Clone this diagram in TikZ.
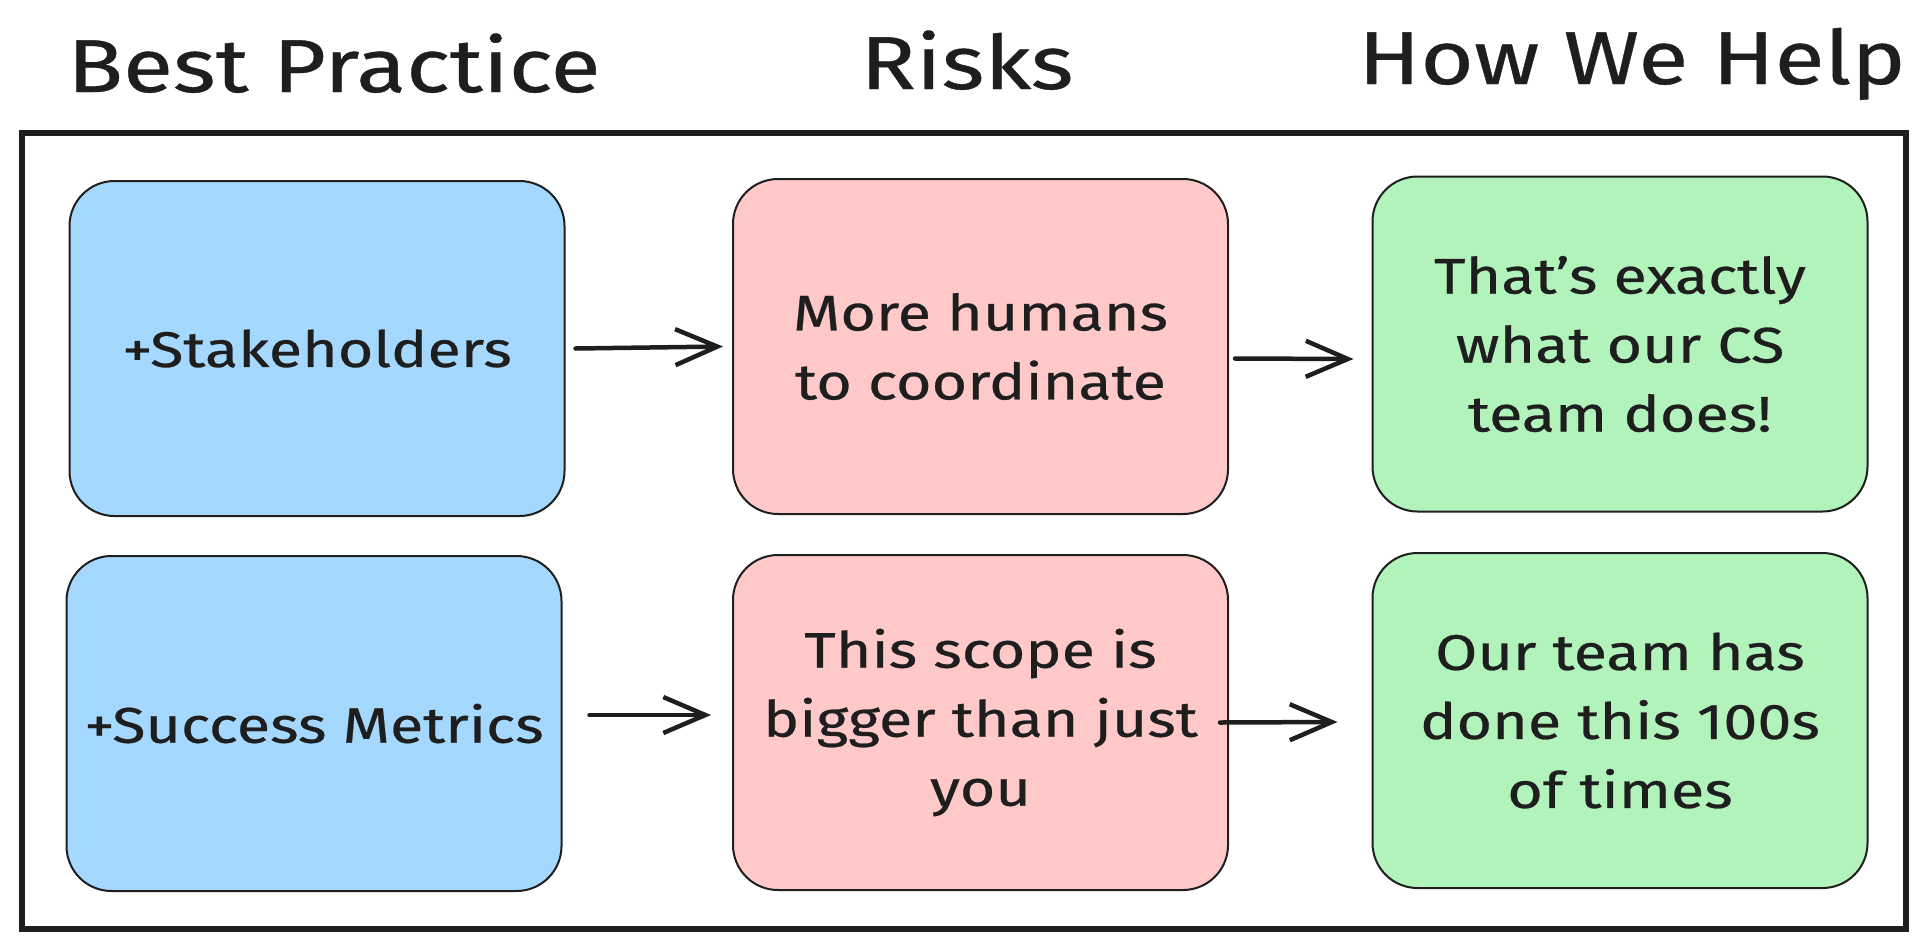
\documentclass[tikz,border=0pt]{standalone}
\usepackage{fontspec}
\setmainfont{Fira Sans}[FakeStretch=1.22,FakeBold=0.5]
\usetikzlibrary{arrows.meta}
\definecolor{ink}{HTML}{1E1E1E}
\definecolor{bpblue}{HTML}{A5D8FF}
\definecolor{rkpink}{HTML}{FFC9C9}
\definecolor{hwgreen}{HTML}{B2F2BB}
\begin{document}
\begin{tikzpicture}[x=1pt,y=-1pt,
    card/.style={draw=ink,line width=2pt,rounded corners=45pt,minimum width=495pt,minimum height=335pt,
                 align=center,text=ink,inner sep=0pt,font=\fontsize{50}{69}\selectfont},
    bestcard/.style={card,fill=bpblue},
    riskcard/.style={card,fill=rkpink},
    helpcard/.style={card,fill=hwgreen},
    heading/.style={text=ink,anchor=base,inner sep=0pt,font=\fontsize{75}{90}\selectfont},
    flow/.style={draw=ink,line width=4.5pt,line cap=round,-{Straight Barb[length=42pt,width=36pt,line width=4.5pt]}}]
	\useasboundingbox (0,0) rectangle (1928,938);
	% column headings
	\node[heading] (tbest) at (334,92) {Best Practice};
	\node[heading] (trisks) at (967,89) {Risks};
	\node[heading] (thelp) at (1632,84) {How We Help};
	% outer frame
	\draw[ink,line width=6.5pt] (22,133) rectangle (1906,929);
	% first row
	\node[bestcard] (bp1) at (317,348.5) {+Stakeholders};
	\node[riskcard] (rk1) at (980.5,346.5) {More humans\\to coordinate};
	\node[helpcard] (hw1) at (1620,344) {That's exactly\\what our CS\\team does!};
	% second row
	\node[bestcard] (bp2) at (314,723.5) {+Success Metrics};
	\node[riskcard] (rk2) at (980.5,722.5) {This scope is\\bigger than just\\you};
	\node[helpcard] (hw2) at (1620,720.5) {Our team has\\done this 100s\\of times};
	% arrows
	\draw[flow] ([xshift=10pt]bp1.east) -- ([xshift=-9pt]rk1.west);
	\draw[flow] ([shift={(6,12)}]rk1.east) -- ([shift={(-18,15)}]hw1.west);
	\draw[flow] ([shift={(27,-8.5)}]bp2.east) -- ([shift={(-21,-7.5)}]rk2.west);
	\draw[flow] ([shift={(-9,0)}]rk2.east) -- ([shift={(-34,1.5)}]hw2.west);
\end{tikzpicture}
\end{document}
